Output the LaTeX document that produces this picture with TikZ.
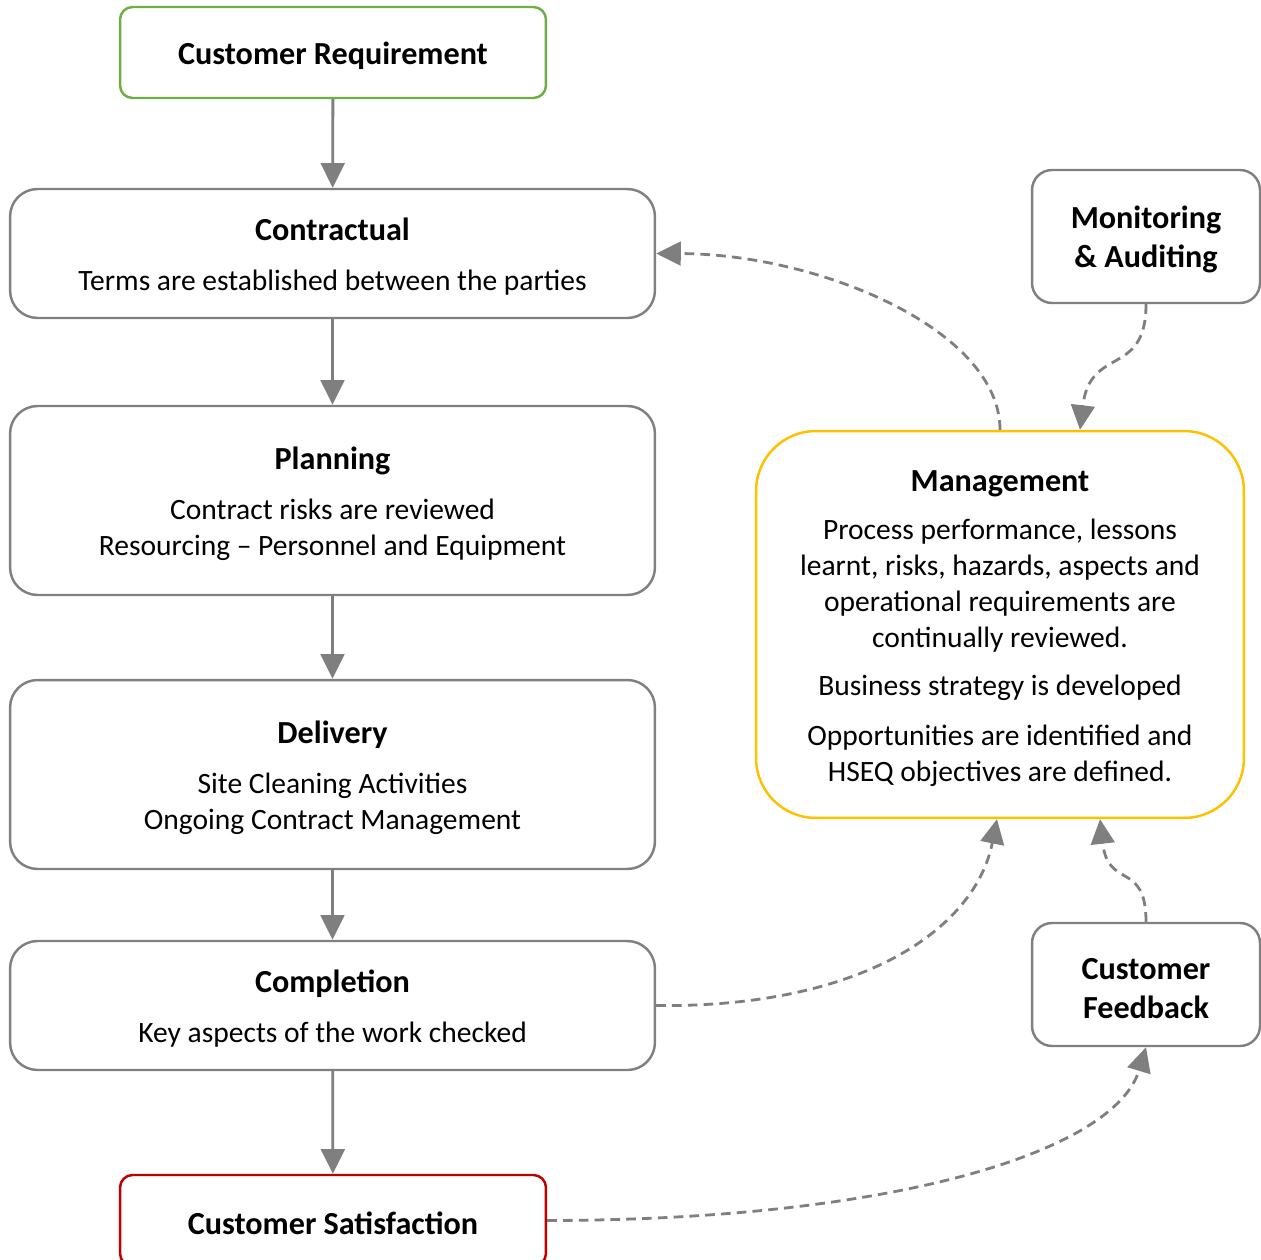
\documentclass[tikz,border=0pt]{standalone}
\usepackage{fontspec}
\setmainfont{Carlito}
\usepackage{tikz}
\usepackage{xcolor}
\usetikzlibrary{positioning,arrows.meta,shapes,calc}
\definecolor{linegrey}{HTML}{7F7F7F}
\definecolor{boxgrey}{HTML}{808080}
\definecolor{startgreen}{HTML}{70AD47}
\definecolor{mgmtyellow}{HTML}{FFC000}
\definecolor{endred}{HTML}{C00000}
\newcommand{\headfont}{\fontsize{18.3}{22}\selectfont\bfseries}
\newcommand{\heading}[1]{{\headfont\rule{0pt}{16.5pt}#1}}

\begin{document}
\begin{tikzpicture}[x=0.02cm, y=-0.02cm,
    box/.style={draw=boxgrey, line width=1.4pt, rounded corners=0.55cm, align=center,
        font=\fontsize{16.8}{20.4}\selectfont, inner sep=0pt},
    mainarrow/.style={-{Triangle[length=14pt,width=13.5pt]}, line width=1.6pt, linegrey},
    backarrow/.style={mainarrow, dash pattern=on 5.5pt off 3.5pt}]
    \useasboundingbox (0,0) rectangle (1261,1260);

    % Main flow on the left
    \node[box, draw=startgreen, rounded corners=0.25cm, minimum width=8.52cm, minimum height=1.82cm]
        (req) at (333,52.5) {\heading{Customer Requirement}};
    \node[box, minimum width=12.9cm, minimum height=2.58cm] (contract) at (332.5,253.5)
        {\heading{Contractual}\\[8pt] Terms are established between the parties};
    \node[box, minimum width=12.9cm, minimum height=3.78cm] (plan) at (332.5,500.5)
        {\heading{Planning}\\[8pt] Contract risks are reviewed\\ Resourcing -- Personnel and Equipment};
    \node[box, minimum width=12.9cm, minimum height=3.78cm] (deliv) at (332.5,774.5)
        {\heading{Delivery}\\[8pt] Site Cleaning Activities\\ Ongoing Contract Management};
    \node[box, minimum width=12.9cm, minimum height=2.58cm] (compl) at (332.5,1005.5)
        {\heading{Completion}\\[8pt] Key aspects of the work checked};
    \node[box, draw=endred, rounded corners=0.25cm, minimum width=8.52cm, minimum height=1.82cm]
        (sat) at (333,1220.5) {\heading{Customer Satisfaction}};

    % Boxes on the right
    \node[box, font=\headfont, rounded corners=0.4cm, minimum width=4.56cm, minimum height=2.66cm]
        (mon) at (1146,236.5) {\rule{0pt}{16.5pt}Monitoring\\ \& Auditing};
    \node[box, draw=mgmtyellow, rounded corners=1.2cm, minimum width=9.76cm, minimum height=7.74cm]
        (mgmt) at (1000,624.5)
        {\heading{Management}\\[7pt] Process performance, lessons\\ learnt, risks, hazards, aspects and\\
         operational requirements are\\ continually reviewed.\\[7pt] Business strategy is developed\\[8pt]
         Opportunities are identified and\\ HSEQ objectives are defined.};
    \node[box, font=\headfont, rounded corners=0.4cm, minimum width=4.56cm, minimum height=2.46cm]
        (fb) at (1146,984.5) {\rule{0pt}{16.5pt}Customer\\ Feedback};

    % Solid arrows down the flow
    \draw[mainarrow] (req) -- (contract);
    \draw[mainarrow] (contract) -- (plan);
    \draw[mainarrow] (plan) -- (deliv);
    \draw[mainarrow] (deliv) -- (compl);
    \draw[mainarrow] (compl) -- (sat);

    % Dashed feedback loops
    \draw[backarrow] (mgmt.north) .. controls (1000,330) and (820,254) .. (contract.east);
    \draw[backarrow] (mon.south) .. controls (1146,378) and (1090,345) .. ($(mgmt.north)+(80,0)$);
    \draw[backarrow] (fb.north) .. controls (1146,860) and (1108,890) .. ($(mgmt.south)+(100,0)$);
    \draw[backarrow] (compl.east) .. controls (860,1008) and (975,930) .. ($(mgmt.south)+(-3,0)$);
    \draw[backarrow] (sat.east) .. controls (900,1220) and (1115,1150) .. (fb.south);
\end{tikzpicture}
\end{document}
